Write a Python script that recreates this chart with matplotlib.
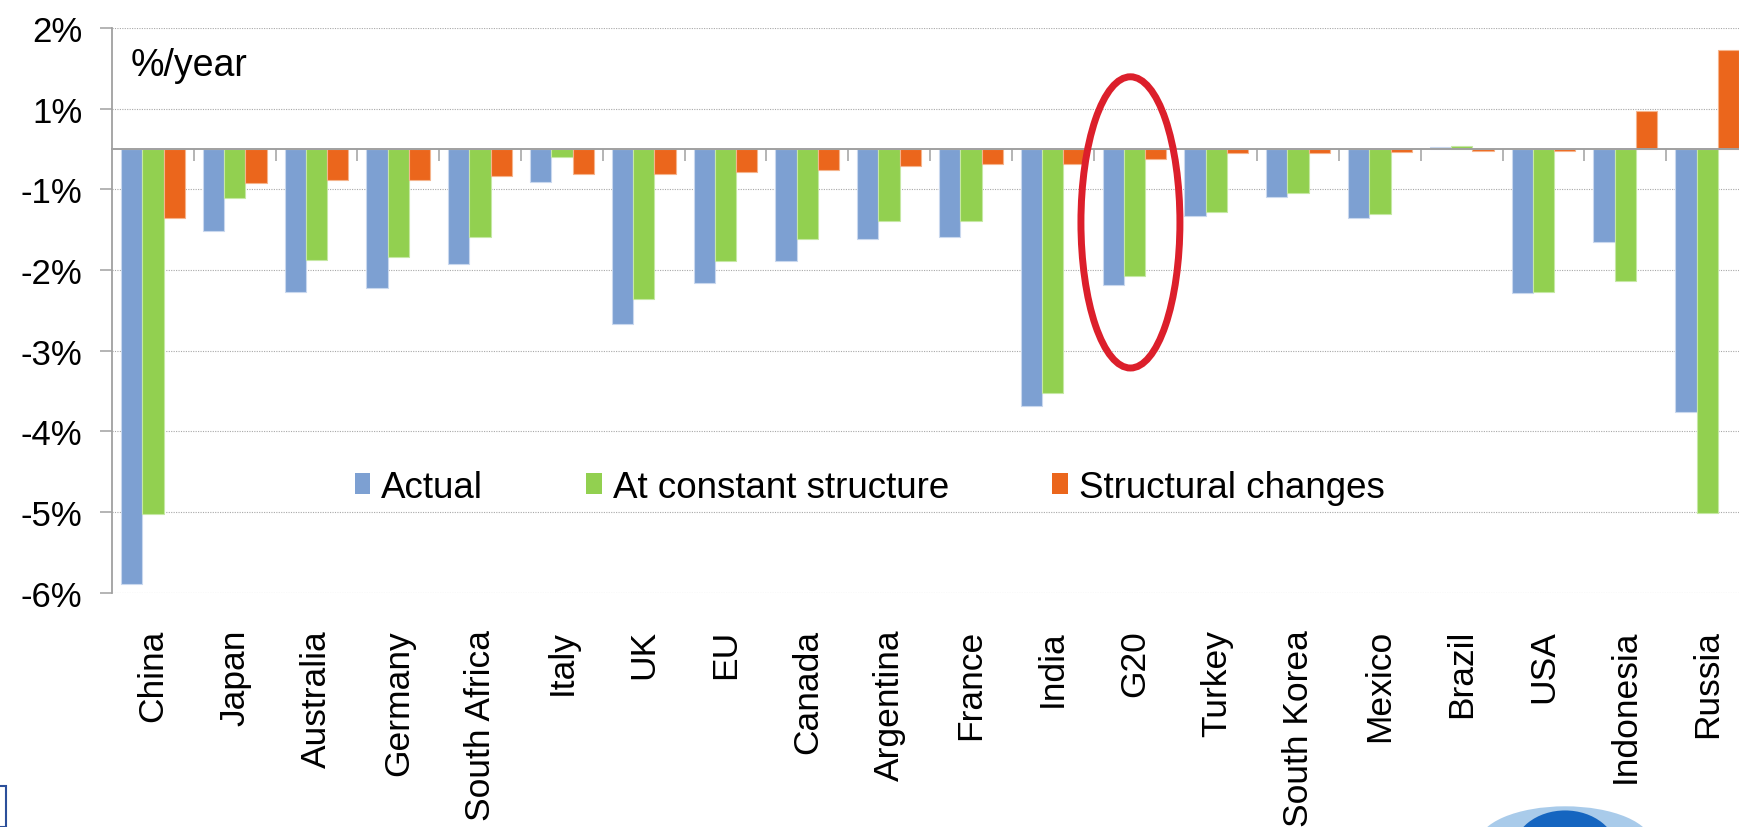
import matplotlib
matplotlib.use("Agg")
import matplotlib.pyplot as plt
import numpy as np
from matplotlib.patches import Ellipse, Patch, Rectangle

plt.rcParams["font.family"] = ["Liberation Sans", "DejaVu Sans"]

# Data (percent per year)
countries = ["China", "Japan", "Australia", "Germany", "South Africa", "Italy",
             "UK", "EU", "Canada", "Argentina", "France", "India", "G20",
             "Turkey", "South Korea", "Mexico", "Brazil", "USA", "Indonesia",
             "Russia"]
actual = [-5.39, -1.02, -1.77, -1.72, -1.43, -0.41, -2.17, -1.66, -1.39, -1.12,
          -1.09, -3.19, -1.69, -0.83, -0.59, -0.85, 0.03, -1.79, -1.15, -3.26]
constant = [-4.53, -0.61, -1.38, -1.34, -1.09, -0.10, -1.86, -1.39, -1.12, -0.89,
            -0.89, -3.02, -1.57, -0.78, -0.54, -0.81, 0.04, -1.77, -1.64, -4.51]
structural = [-0.86, -0.42, -0.38, -0.38, -0.34, -0.31, -0.31, -0.29, -0.26, -0.21,
              -0.19, -0.18, -0.12, -0.05, -0.05, -0.04, -0.02, -0.02, 0.47, 1.23]
series_names = ["Actual", "At constant structure", "Structural changes"]

# axis ticks sit at half steps, labels rounded the way the source chart shows them
ytick_pos = np.arange(-5.5, 1.6, 1.0)
ytick_labels = ["-6%", "-5%", "-4%", "-3%", "-2%", "-1%", "1%", "2%"]

colors = ["#7DA0D2", "#92D050", "#EB661C"]
edges = ["#C9D8EE", "#C6E8A4", "#F5B48C"]
grey = "#A0A0A0"

fig = plt.figure(figsize=(17.39, 8.28), dpi=100)
ax = fig.add_axes([0.0644, 0.283, 0.9408, 0.682])

x = np.arange(len(countries))
w = 0.26
for k, vals in enumerate([actual, constant, structural]):
    ax.bar(x + (k - 1) * w, vals, width=w, color=colors[k], edgecolor=edges[k],
           linewidth=0.8, zorder=2)

ax.set_xlim(-0.5, len(countries) - 0.5)
ax.set_ylim(-5.5, 1.5)

# y axis
ax.set_yticks(ytick_pos)
ax.set_yticklabels(ytick_labels, fontsize=25)
ax.tick_params(axis="y", direction="out", length=8.5, width=1.1, color=grey, pad=13)
ax.yaxis.grid(True, linestyle=(0, (1, 1.2)), color="#A8A8A8", linewidth=0.8, zorder=0)
ax.set_axisbelow(True)

# category axis drawn at zero, labels at the bottom
for s in ["top", "right"]:
    ax.spines[s].set_visible(False)
ax.spines["left"].set_color(grey)
ax.spines["left"].set_linewidth(1.3)
ax.spines["bottom"].set_position(("data", 0))
ax.spines["bottom"].set_color(grey)
ax.spines["bottom"].set_linewidth(1.4)
ax.spines["bottom"].set_zorder(3)
ax.set_xticks(np.arange(0.5, len(countries) - 0.5, 1.0))
ax.set_xticklabels([])
ax.tick_params(axis="x", direction="out", length=8.5, width=1.1, color=grey)

sec = ax.secondary_xaxis("bottom")
sec.set_xticks(x)
sec.set_xticklabels(countries, rotation=90, fontsize=25.5, va="top", ha="center")
sec.tick_params(length=0, pad=26)
sec.spines["bottom"].set_visible(False)

ax.text(0.0116, 0.934, "%/year", transform=ax.transAxes, fontsize=27,
        va="center", ha="left")

handles = [Patch(facecolor=c) for c in colors]
fig.legend(handles, series_names, loc="center left", bbox_to_anchor=(0.204, 0.4106),
           ncol=3, frameon=False, fontsize=26.5, handlelength=0.42, handleheight=0.52,
           handletextpad=0.3, columnspacing=2.8, borderpad=0, borderaxespad=0)

# highlight G20
g = countries.index("G20")
ax.add_patch(Ellipse((g - 0.05, -0.91), 1.21, 3.61, fill=False,
                     edgecolor="#DC1F2B", linewidth=5, zorder=5))

# fragments at the picture edges
fig.add_artist(Rectangle((-0.01, 0.0), 0.0135, 0.05, transform=fig.transFigure,
                         fill=False, edgecolor="#2B4F9A", linewidth=1.5))
fig.add_artist(Ellipse((0.9, -0.02), 0.1, 0.09, transform=fig.transFigure,
                       facecolor="#A9CBEA", edgecolor="none"))
fig.add_artist(Ellipse((0.9, -0.03), 0.06, 0.1, transform=fig.transFigure,
                       facecolor="#1565C0", edgecolor="none"))

fig.savefig("out.png", dpi=100, facecolor="white")
